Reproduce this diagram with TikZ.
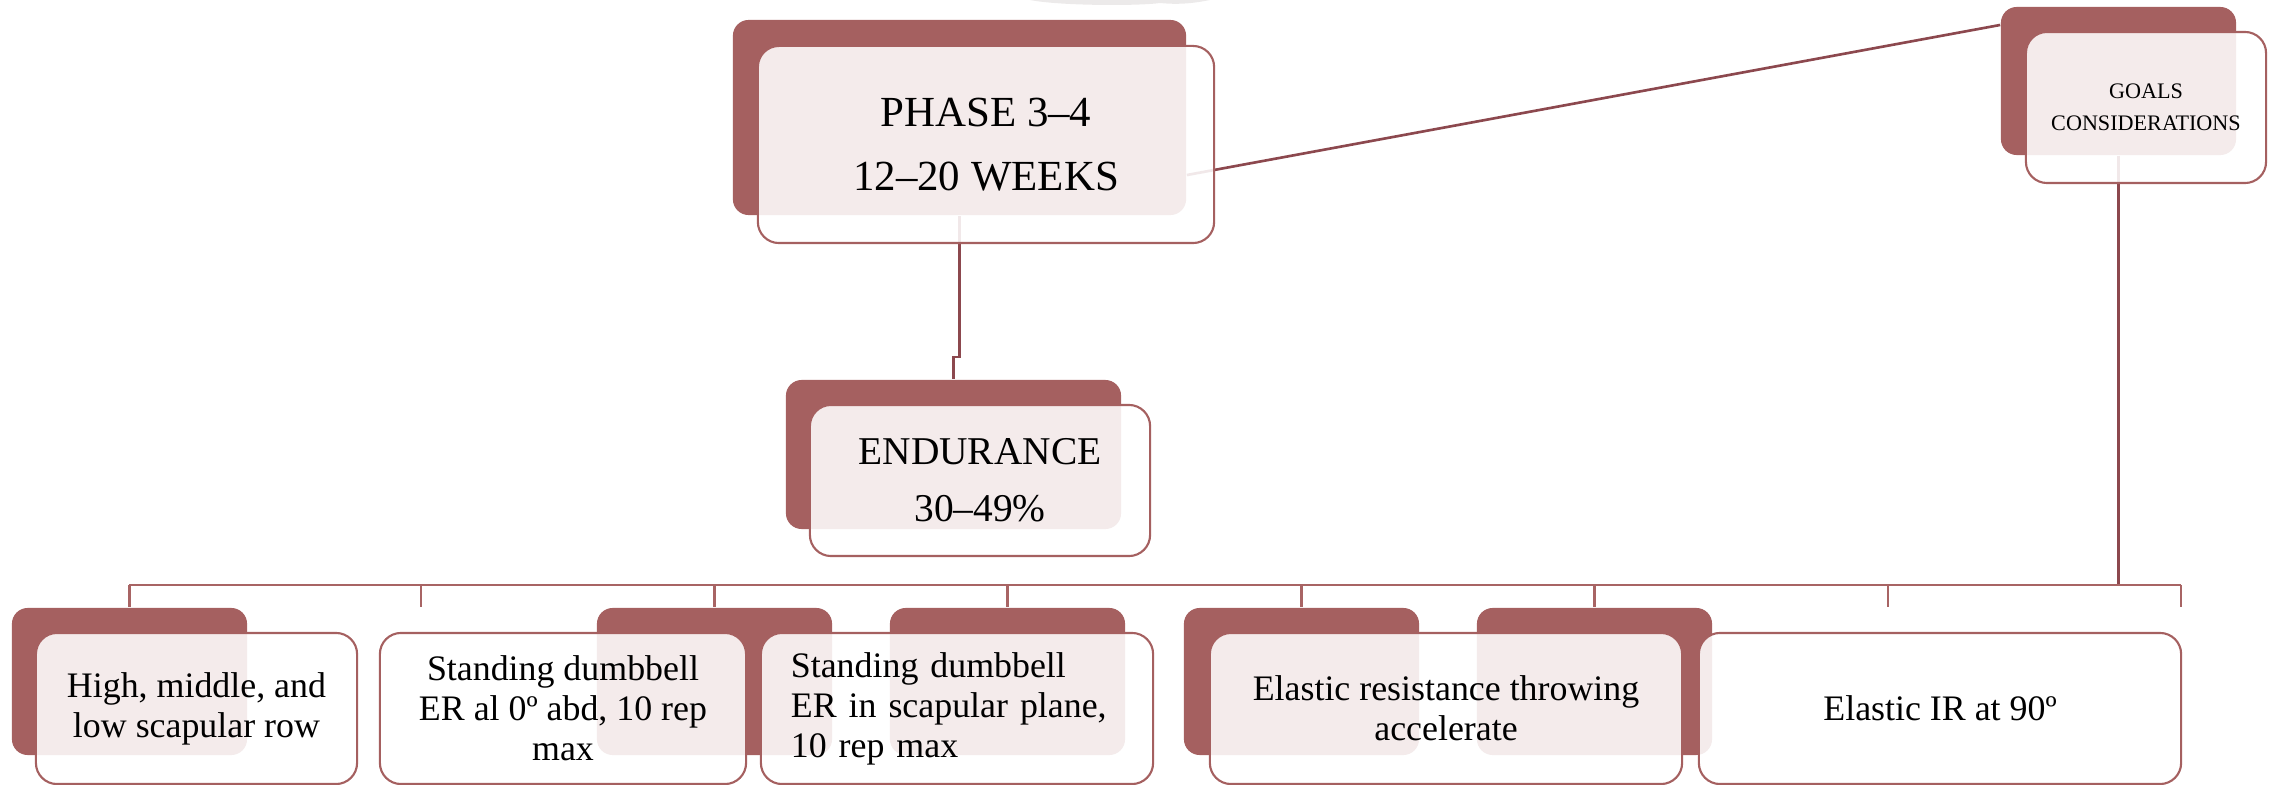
\documentclass[tikz,border=0pt]{standalone}
\usepackage{fontspec}
\setmainfont{Liberation Serif}
\definecolor{accent}{RGB}{165,96,96}
\definecolor{linkdark}{RGB}{140,72,78}
\definecolor{buscol}{RGB}{168,100,100}
\definecolor{haze}{RGB}{236,234,234}
\tikzset{
  backbox/.style={fill=accent, rounded corners=4.5pt, inner sep=0pt},
  frontbox/.style={draw=accent, line width=0.6pt, fill=white, fill opacity=0.88,
    text opacity=1, rounded corners=6pt, inner sep=0pt, align=center},
  link/.style={draw=linkdark, line width=0.75pt},
  bus/.style={draw=buscol, line width=0.75pt},
  bodytext/.style={font=\fontsize{10.2}{11.4}\selectfont},
  childback/.style={backbox, minimum width=2.35cm, minimum height=1.47cm},
  childfront/.style={frontbox, bodytext, minimum height=1.51cm}
}
\begin{document}
\begin{tikzpicture}[x=0.01cm, y=-0.01cm]
\useasboundingbox (0,0) rectangle (2277,785);

% faint shape at the top edge
\fill[haze] (1030,0) .. controls (1060,6) and (1140,6) .. (1160,3)
  .. controls (1180,5) and (1195,3) .. (1210,0) -- cycle;

% accent blocks behind the text boxes
\node[backbox, minimum width=4.53cm, minimum height=1.95cm] (phaseback) at (959.5,117.5) {};
\node[backbox, minimum width=2.35cm, minimum height=1.48cm] (goalsback) at (2118.5,81) {};
\node[backbox, minimum width=3.35cm, minimum height=1.49cm] (endback) at (953.5,454.5) {};
\node[childback] (back1) at (129.5,681.5) {};
\node[childback] (back2) at (714.5,681.5) {};
\node[childback] (back3) at (1007.5,681.5) {};
\node[childback] (back4) at (1301.5,681.5) {};
\node[childback] (back5) at (1594.5,681.5) {};

% connectors
\coordinate (jog) at (0,357);
\coordinate (busL) at (129,585);
\coordinate (busR) at (2181,585);
\coordinate (tickA) at (421,607);
\coordinate (tickB) at (1888,607);
\coordinate (tickC) at (2181,607);

\draw[link] ([yshift=-0.575cm]phaseback.east) -- ([yshift=0.56cm]goalsback.west);
\draw[link] (phaseback.south) -- (phaseback.south |- jog) -| (endback.north);
\draw[link] (goalsback.south) -- (goalsback.south |- busR);
\draw[bus] (busL) -- (busR);
\foreach \b in {back1,back2,back3,back4,back5}
  \draw[bus] (\b.north |- busL) -- (\b.north);
\foreach \t in {tickA,tickB,tickC}
  \draw[bus] (\t |- busL) -- (\t);

% text boxes
\node[frontbox, minimum width=4.56cm, minimum height=1.97cm,
  font=\fontsize{12.2}{18.1}\selectfont] (phase) at (986,144.5)
  {PHASE 3--4\\12--20 WEEKS};
\node[frontbox, minimum width=2.40cm, minimum height=1.51cm,
  font=\fontsize{6.3}{9.1}\selectfont] (goals) at (2146,107.5)
  {GOALS\\CONSIDERATIONS};
\node[frontbox, minimum width=3.40cm, minimum height=1.51cm,
  font=\fontsize{11.2}{16.2}\selectfont] (endur) at (980,480.5)
  {ENDURANCE\\30--49\%};

\node[childfront, minimum width=3.21cm] (b1) at (196.5,708.5)
  {High, middle, and\\low scapular row};
\node[childfront, minimum width=3.66cm] (b2) at (563,708.5)
  {Standing dumbbell\\ER al 0º abd, 10 rep\\max};
\node[childfront, minimum width=3.92cm, text width=3.32cm, align=left] (b3) at (957,708.5)
  {Standing dumbbell\\ER in scapular plane,\\10 rep max};
\node[childfront, minimum width=4.72cm] (b4) at (1446,708.5)
  {Elastic resistance throwing\\accelerate};
\node[childfront, minimum width=4.82cm] (b5) at (1940,708.5)
  {Elastic IR at 90º};
\end{tikzpicture}
\end{document}
